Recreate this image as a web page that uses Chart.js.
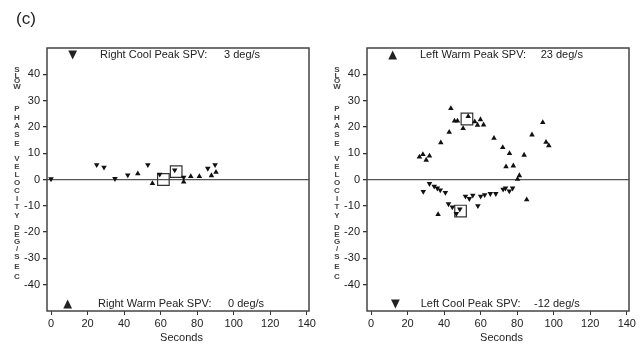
<!DOCTYPE html>
<html><head><meta charset="utf-8">
<script src="https://cdn.jsdelivr.net/npm/chart.js@4"></script>
<style>
html,body{margin:0;padding:0;background:#fff;}
#wrap{position:relative;width:640px;height:351px;overflow:hidden;}
canvas{position:absolute;top:0;}
</style></head>
<body><div id="wrap">
<canvas id="cL" width="320" height="351" style="left:0"></canvas>
<canvas id="cR" width="320" height="351" style="left:320px"></canvas>
</div>
<script>
// ---- data (seconds, deg/s) ----
const xTicks = [0, 20, 40, 60, 80, 100, 120, 140];
const yTicks = [-40, -30, -20, -10, 0, 10, 20, 30, 40];

const leftCoolSec = [0, 25, 29, 35, 42, 53, 59.5, 67.7, 72.6, 85.8, 89.8];
const leftCoolVal = [0.2, 5.6, 4.6, 0.3, 1.7, 5.6, 2, 3.6, 0.8, 4.2, 5.6];
const leftWarmSec = [47.5, 55.5, 72.6, 76.5, 81.2, 87.8, 90.3];
const leftWarmVal = [2.2, -1.5, -0.9, 1.2, 1.2, 1.5, 2.8];
const leftPeakSec = [61.5, 68.5];
const leftPeakVal = [0, 3];

const rightWarmSec = [26.5,28.4,30.2,32,36.7,38.2,42.8,43.7,45.7,47.3,50.4,53.2,56.8,58.3,59.9,61.6,67.3,72.1,73.9,75.8,77.9,80.2,81.2,83.8,85.2,88.1,94,95.8,97.3];
const rightWarmVal = [8.6,9.5,7.4,9,-13.3,14,18,27,22.3,22.3,19.4,24,22,20.7,22.8,20.8,15.7,12.2,4.9,9.9,5.2,0.1,1.5,9.3,-7.7,17,21.7,14.2,12.9];
const rightCoolSec = [28.6,32,34.6,36.3,37.9,40.7,42.4,44.5,46.7,48.6,51.7,53.8,55.7,58.5,60,62.2,65.3,68.3,72.3,73.6,75.7,77.5];
const rightCoolVal = [-4.6,-1.6,-2.6,-3.3,-4,-5,-9.3,-10.5,-13,-11.3,-6.4,-7.3,-6,-10,-6.4,-5.8,-5.4,-5.4,-3.7,-3.3,-4.4,-3.3];
const rightPeakSec = [52.5, 49];
const rightPeakVal = [23, -12];

const leftTopLabel = ['▼', 'Right Cool Peak SPV:', '3 deg/s'];
const leftBotLabel = ['▲', 'Right Warm Peak SPV:', '0 deg/s'];
const rightTopLabel = ['▲', 'Left Warm Peak SPV:', '23 deg/s'];
const rightBotLabel = ['▼', 'Left Cool Peak SPV:', '-12 deg/s'];
const yTitleWords = ['SLOW', 'PHASE', 'VELOCITY', 'DEG/SEC'];
const xTitle = 'Seconds';
const panelTag = '(c)';

// ---- drawing ----
const FONT = "Arial, 'Liberation Sans', sans-serif";
const TXT = '#222';
const pts = (xs, ys) => xs.map((x, i) => ({x: x, y: ys[i]}));

// y positions of stacked title letters
const letterY = [70,75.5,81,86.5, 109,118,126,135,144, 159,167,175,183,191,199,207,216, 228,235,242,249,257,267,277];

function decorPlugin(top, bot, pos, tag) {
  return {
    id: 'decor',
    afterDraw(chart) {
      const ctx = chart.ctx, a = chart.chartArea;
      ctx.save();
      // frame
      ctx.strokeStyle = '#444'; ctx.lineWidth = 1.5;
      ctx.strokeRect(a.left, a.top, a.right - a.left, a.bottom - a.top);
      ctx.fillStyle = TXT; ctx.textBaseline = 'middle'; ctx.textAlign = 'left';
      // top/bottom annotations
      ctx.font = "11.5px 'DejaVu Sans'";
      ctx.textAlign = 'center';
      ctx.fillText(top[0], pos.tg, 55);
      ctx.fillText(bot[0], pos.bg, 304);
      ctx.textAlign = 'left';
      ctx.font = '11px ' + FONT;
      ctx.fillText(top[1], pos.t1, 55);
      ctx.fillText(top[2], pos.t2, 55);
      ctx.fillText(bot[1], pos.b1, 304);
      ctx.fillText(bot[2], pos.b2, 304);
      // x title
      ctx.textAlign = 'center';
      ctx.fillText(xTitle, 181.5, 337.5);
      // y title (stacked letters)
      ctx.font = 'bold 8px ' + FONT;
      ctx.fillStyle = '#444';
      let k = 0;
      yTitleWords.forEach(w => { for (const ch of w) { ctx.fillText(ch, 17, letterY[k++]); } });
      if (tag) {
        ctx.fillStyle = TXT; ctx.font = '17px ' + FONT; ctx.textAlign = 'left';
        ctx.fillText(tag, 16, 19);
      }
      ctx.restore();
    }
  };
}

function makeChart(id, cool, warm, peaks, top, bot, pos, tag) {
  return new Chart(document.getElementById(id), {
    type: 'scatter',
    data: { datasets: [
      { data: cool, pointStyle: 'triangle', rotation: 180, pointRadius: 3.2, backgroundColor: '#111', borderWidth: 0 },
      { data: warm, pointStyle: 'triangle', rotation: 0, pointRadius: 3.2, backgroundColor: '#111', borderWidth: 0 },
      { data: peaks, pointStyle: 'rect', pointRadius: 8.2, backgroundColor: 'rgba(0,0,0,0)', borderColor: '#333', borderWidth: 1.2 }
    ]},
    options: {
      responsive: false, animation: false, events: [],
      devicePixelRatio: 1,
      layout: { padding: { left: 0, right: 11, top: 48, bottom: 0 } },
      plugins: { legend: { display: false }, tooltip: { enabled: false } },
      scales: {
        x: {
          type: 'linear', min: -2.2, max: 141.2,
          afterBuildTicks: s => { s.ticks = xTicks.map(v => ({ value: v })); },
          afterFit: s => { s.height = 40; },
          grid: { drawOnChartArea: false, tickLength: 4, color: '#333' },
          border: { display: false },
          ticks: { font: { size: 11, family: FONT }, color: TXT, padding: 2, maxRotation: 0 }
        },
        y: {
          type: 'linear', min: -50, max: 50,
          afterBuildTicks: s => { s.ticks = yTicks.map(v => ({ value: v })); },
          afterFit: s => { s.width = 47; },
          grid: { color: c => (c.tick && c.tick.value === 0) ? '#555' : 'rgba(0,0,0,0)', lineWidth: 1.3, tickColor: '#333', tickLength: 4 },
          border: { display: false },
          ticks: { font: { size: 11, family: FONT }, color: TXT, padding: 3 }
        }
      }
    },
    plugins: [decorPlugin(top, bot, pos, tag)]
  });
}

makeChart('cL', pts(leftCoolSec, leftCoolVal), pts(leftWarmSec, leftWarmVal), pts(leftPeakSec, leftPeakVal),
  leftTopLabel, leftBotLabel, { tg: 72.7, t1: 100, t2: 224, bg: 67.7, b1: 98, b2: 228 }, panelTag);
makeChart('cR', pts(rightCoolSec, rightCoolVal), pts(rightWarmSec, rightWarmVal), pts(rightPeakSec, rightPeakVal),
  rightTopLabel, rightBotLabel, { tg: 72.7, t1: 100, t2: 220.7, bg: 75.3, b1: 100.7, b2: 214 }, null);
</script>
</body></html>
